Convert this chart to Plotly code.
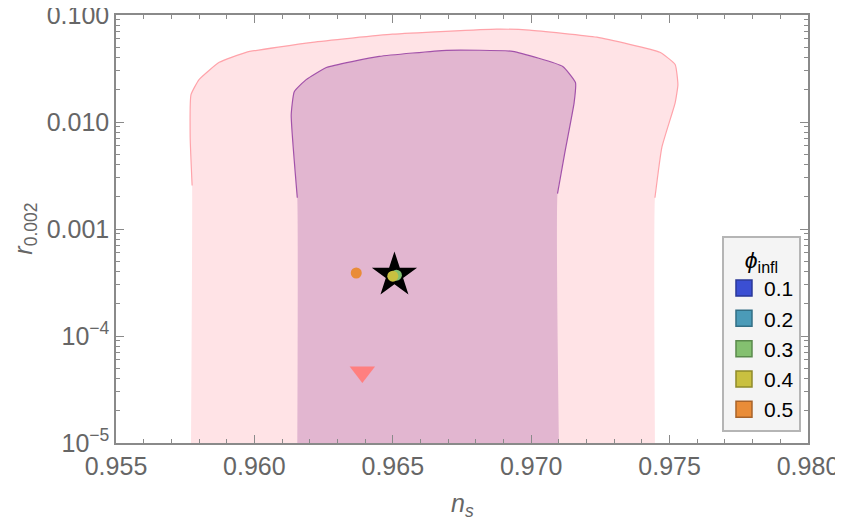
import plotly.graph_objects as go

# outer (2 sigma) region, clockwise from bottom-left
outer_ns = [0.95771, 0.95775, 0.95768, 0.95771, 0.95800, 0.95873, 0.95970, 0.96209,
            0.96499, 0.96875, 0.96994, 0.97237, 0.97465, 0.97520, 0.97530, 0.97520,
            0.97472, 0.97447, 0.97447]
outer_r = [1e-5, 0.00255, 0.00721, 0.0180, 0.0249, 0.0361, 0.0448, 0.0556,
           0.0662, 0.0738, 0.0722, 0.0620, 0.0448, 0.0345, 0.0223, 0.0151,
           0.0058, 0.00196, 1e-5]

# inner (1 sigma) region
inner_ns = [0.96155, 0.96155, 0.96133, 0.96144, 0.96187, 0.96260, 0.96451, 0.96694,
            0.96933, 0.97114, 0.97160, 0.97155, 0.97121, 0.97095, 0.97100]
inner_r = [1e-5, 0.00196, 0.01164, 0.0192, 0.0249, 0.0323, 0.0410, 0.0468,
           0.0457, 0.0330, 0.0233, 0.0151, 0.0051, 0.00214, 1e-5]

phi_vals = ["0.1", "0.2", "0.3", "0.4", "0.5"]
phi_colors = ["#3b4fd3", "#4b9bb8", "#84c070", "#c9c040", "#e98c38"]
phi_edges = ["#2a3898", "#336f85", "#5a8a4c", "#8f8a2a", "#a8632a"]

# model points
pt_ns = [0.96513, 0.96500, 0.96368]
pt_r = [3.70e-4, 3.62e-4, 3.88e-4]
pt_idx = [2, 3, 4]

star_ns, star_r = 0.96506, 3.70e-4
tri_ns, tri_r = 0.96390, 4.6e-5

fig = go.Figure()

fig.add_trace(go.Scatter(x=outer_ns, y=outer_r, fill="toself", fillcolor="#ffe3e6",
                         mode="lines", line=dict(width=0, shape="spline", smoothing=0.4),
                         showlegend=False, hoverinfo="skip"))
fig.add_trace(go.Scatter(x=outer_ns[1:-1], y=outer_r[1:-1], mode="lines",
                         line=dict(color="#ffa3aa", width=1.2, shape="spline", smoothing=0.4),
                         showlegend=False))
fig.add_trace(go.Scatter(x=inner_ns, y=inner_r, fill="toself", fillcolor="#e2b6d0",
                         mode="lines", line=dict(width=0, shape="spline", smoothing=0.4),
                         showlegend=False, hoverinfo="skip"))
fig.add_trace(go.Scatter(x=inner_ns[1:-1], y=inner_r[1:-1], mode="lines",
                         line=dict(color="#a252aa", width=1.2, shape="spline", smoothing=0.4),
                         showlegend=False))

fig.add_trace(go.Scatter(x=[tri_ns], y=[tri_r], mode="markers", showlegend=False,
                         marker=dict(symbol="triangle-down", size=22, color="#ff7f7f")))
fig.add_trace(go.Scatter(x=[star_ns], y=[star_r], mode="markers", showlegend=False,
                         marker=dict(symbol="star", size=34, color="black")))
for x, y, i in zip(pt_ns, pt_r, pt_idx):
    fig.add_trace(go.Scatter(x=[x], y=[y], mode="markers", showlegend=False,
                             marker=dict(size=11, color=phi_colors[i], line=dict(width=0))))

# legend entries
for v, c, e in zip(phi_vals, phi_colors, phi_edges):
    fig.add_trace(go.Scatter(x=[None], y=[None], mode="markers", name=v,
                             marker=dict(symbol="square", size=18, color=c,
                                         line=dict(color=e, width=1.5))))

font = "Liberation Sans"
gray = "#666666"
frame = "#8a8a8a"

ytick_vals = [1e-5, 1e-4, 1e-3, 1e-2, 1e-1]
ytick_text = ["10<sup>−5</sup>", "10<sup>−4</sup>", "0.001", "0.010", "0.100"]
y_minor = [k * 10 ** e for e in range(-5, -1) for k in range(2, 10)]
x_major = [0.955, 0.960, 0.965, 0.970, 0.975, 0.980]
x_minor = [round(0.955 + 0.001 * i, 3) for i in range(26)]

fig.update_xaxes(range=[0.955, 0.980], showgrid=False, zeroline=False, automargin=False,
                 showline=True, linecolor=frame, linewidth=1.5, mirror="allticks",
                 ticks="inside", ticklen=8, tickcolor=frame, tickwidth=1,
                 tickvals=x_major, ticktext=["%.3f" % v for v in x_major],
                 ticklabeloverflow="allow",
                 tickfont=dict(family=font, size=25, color=gray),
                 minor=dict(ticks="inside", ticklen=4, tickcolor=frame, tickvals=x_minor,
                            showgrid=False))
fig.update_yaxes(type="log", range=[-5, -1], showgrid=False, zeroline=False, automargin=False,
                 showline=True, linecolor=frame, linewidth=1.5, mirror="allticks",
                 ticks="inside", ticklen=8, tickcolor=frame, tickwidth=1,
                 tickvals=ytick_vals, ticktext=ytick_text,
                 ticklabeloverflow="allow",
                 tickfont=dict(family=font, size=25, color=gray),
                 minor=dict(ticks="inside", ticklen=4, tickcolor=frame, tickvals=y_minor,
                            showgrid=False))

fig.add_annotation(xref="paper", yref="paper", x=0.5, y=-0.145, showarrow=False,
                   xanchor="center", yanchor="middle",
                   text="<i>n<sub>s</sub></i>", font=dict(family=font, size=25, color=gray))
fig.add_annotation(xref="paper", yref="paper", x=-0.132, y=0.5, showarrow=False,
                   xanchor="center", yanchor="middle",
                   textangle=-90, text="<i>r</i><sub>0.002</sub>",
                   font=dict(family=font, size=25, color=gray))

# page body has an 8px default margin, so shift the plot area up/left by that much
fig.update_layout(
    width=843, height=524,
    margin=dict(l=108, r=43, t=7, b=89),
    plot_bgcolor="white", paper_bgcolor="white",
    legend=dict(x=0.8757, y=0.4836, xanchor="left", yanchor="top",
                bgcolor="#f4f4f4", bordercolor="#b5b5b5", borderwidth=2,
                font=dict(family=font, size=21, color="black"),
                title=dict(text="<i>ϕ</i><sub>infl</sub>", side="top center",
                           font=dict(family=font, size=23, color="black"))),
)

fig.write_html("out.html")
